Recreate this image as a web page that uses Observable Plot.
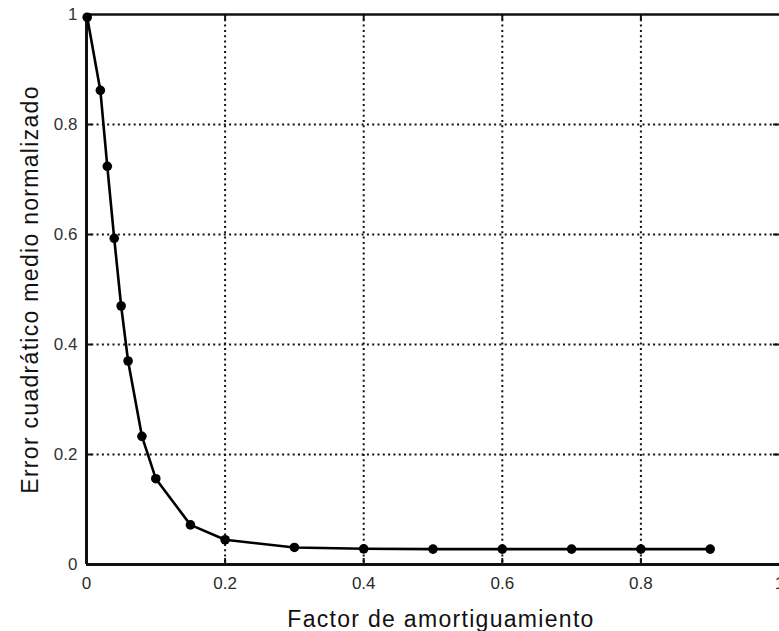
<!DOCTYPE html>
<html>
<head>
<meta charset="utf-8">
<script src="https://cdn.jsdelivr.net/npm/d3@7"></script>
<script src="https://cdn.jsdelivr.net/npm/@observablehq/plot@0.6"></script>
<style>
  html, body { margin: 0; padding: 0; background: #fff; }
  #chart svg { display: block; }
</style>
</head>
<body>
<div id="chart"></div>
<script>
// Damping factor (x) vs. normalized mean squared error (y)
const dampingFactor = [0.001, 0.02, 0.03, 0.04, 0.05, 0.06, 0.08, 0.1, 0.15, 0.2, 0.3, 0.4, 0.5, 0.6, 0.7, 0.8, 0.9];
const normalizedMSE = [0.995, 0.862, 0.724, 0.593, 0.470, 0.370, 0.233, 0.156, 0.072, 0.045, 0.031, 0.0285, 0.028, 0.028, 0.028, 0.028, 0.028];

const xTicks = [0, 0.2, 0.4, 0.6, 0.8, 1];
const yTicks = [0, 0.2, 0.4, 0.6, 0.8, 1];
const innerTicks = [0.2, 0.4, 0.6, 0.8];

const xLabel = "Factor de amortiguamiento";
const yLabel = "Error cuadrático medio normalizado";

const points = dampingFactor.map((x, i) => ({x, y: normalizedMSE[i]}));

const W = 779, H = 631;
const mTop = 14, mBottom = 67, mLeft = 86, mRight = 0;
const innerH = H - mTop - mBottom;
const innerW = W - mLeft - mRight;

const chart = Plot.plot({
  width: W,
  height: H,
  marginTop: mTop,
  marginBottom: mBottom,
  marginLeft: mLeft,
  marginRight: mRight,
  style: {fontFamily: "'Liberation Sans', Arial, sans-serif", background: "#fff", overflow: "visible"},
  x: {domain: [0, 1]},
  y: {domain: [0, 1]},
  marks: [
    // dotted grid
    Plot.ruleX(innerTicks, {stroke: "#111", strokeWidth: 2, strokeDasharray: "2,3.3"}),
    Plot.ruleY(innerTicks, {stroke: "#111", strokeWidth: 2, strokeDasharray: "2,3.3"}),
    // inward tick marks on all four sides
    Plot.tickX(innerTicks, {x: d => d, insetTop: innerH - 6, stroke: "#111", strokeWidth: 2}),
    Plot.tickX(innerTicks, {x: d => d, insetBottom: innerH - 6, stroke: "#111", strokeWidth: 2}),
    Plot.tickY(innerTicks, {y: d => d, insetRight: innerW - 6, stroke: "#111", strokeWidth: 2}),
    Plot.tickY(innerTicks, {y: d => d, insetLeft: innerW - 6, stroke: "#111", strokeWidth: 2}),
    // axes box
    Plot.ruleY([1], {stroke: "#111", strokeWidth: 2.5}),
    Plot.ruleX([1], {stroke: "#444", strokeWidth: 1}),
    Plot.ruleY([0], {stroke: "#111", strokeWidth: 3}),
    Plot.ruleX([0], {stroke: "#111", strokeWidth: 3}),
    // tick labels and titles
    Plot.axisX(xTicks, {
      tickSize: 0, tickPadding: 12, fontSize: 17, fill: "#2a2a2a",
      tickFormat: d => String(d),
      label: xLabel, labelAnchor: "center", labelArrow: "none", labelOffset: 62
    }),
    Plot.axisY(yTicks, {
      tickSize: 0, tickPadding: 9, fontSize: 17, fill: "#333",
      tickFormat: d => String(d),
      label: yLabel, labelAnchor: "center", labelArrow: "none", labelOffset: 65
    }),
    // data
    Plot.line(points, {x: "x", y: "y", stroke: "#000", strokeWidth: 2.6}),
    Plot.dot(points, {x: "x", y: "y", r: 4.8, fill: "#000", stroke: "none"})
  ]
});

// axis titles use a larger, slightly spaced face
chart.querySelectorAll("[aria-label='x-axis label'] text, [aria-label='y-axis label'] text").forEach(t => {
  t.setAttribute("font-size", 23);
  t.setAttribute("letter-spacing", "1.3");
  t.setAttribute("fill", "#111");
});
chart.querySelectorAll("[aria-label='x-axis label'] text").forEach(t => t.setAttribute("dx", 8));

document.getElementById("chart").appendChild(chart);
</script>
</body>
</html>
